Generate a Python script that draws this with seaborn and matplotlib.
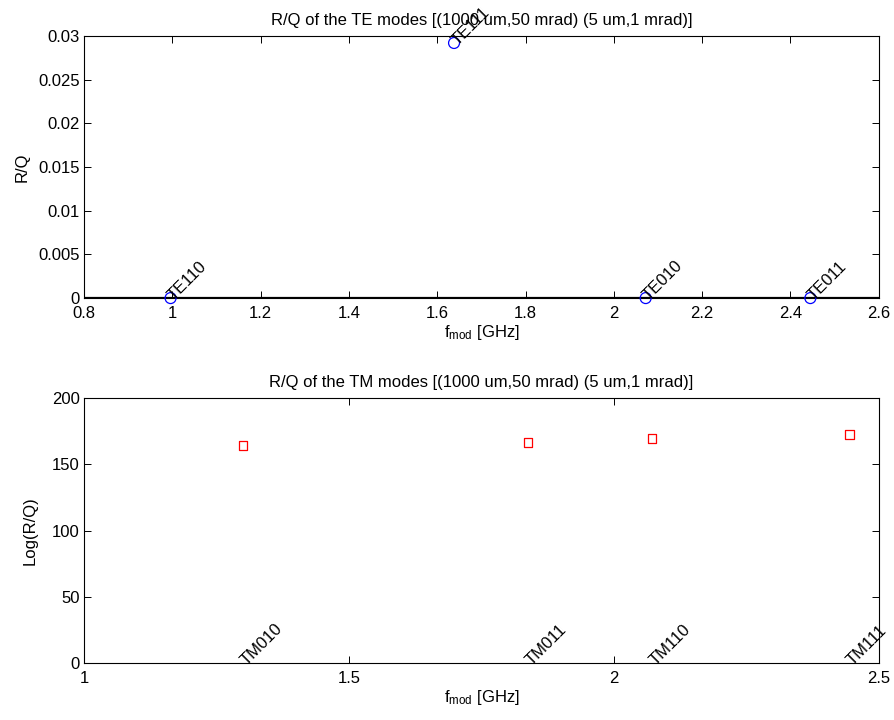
import matplotlib
matplotlib.use("Agg")
import matplotlib.pyplot as plt
import seaborn as sns
import numpy as np
import pandas as pd
from matplotlib.ticker import FuncFormatter

# ---- data ----
te_modes = ["TE110", "TE111", "TE010", "TE011"]
te_freq = [0.996, 1.638, 2.072, 2.445]
te_rq = [0.0, 0.0292, 0.0, 0.0]

tm_modes = ["TM010", "TM011", "TM110", "TM111"]
tm_freq = [1.300, 1.838, 2.072, 2.445]
tm_logrq = [164.5, 166.5, 169.5, 172.5]

te_title = "R/Q of the TE modes [(1000 um,50 mrad) (5 um,1 mrad)]"
tm_title = "R/Q of the TM modes [(1000 um,50 mrad) (5 um,1 mrad)]"

sns.set_style("ticks")
plt.rcParams["font.family"] = ["Liberation Sans", "DejaVu Sans"]
plt.rcParams.update({
    "xtick.direction": "in", "ytick.direction": "in",
    "xtick.top": True, "ytick.right": True,
    "xtick.major.size": 5, "ytick.major.size": 5,
    "xtick.major.width": 0.7, "ytick.major.width": 0.7,
    "xtick.major.pad": 6, "ytick.major.pad": 3,
    "axes.linewidth": 0.8, "font.size": 12,
    "axes.edgecolor": "black", "xtick.color": "black", "ytick.color": "black",
    "text.color": "black", "axes.labelcolor": "black",
    "xtick.labelcolor": "black", "ytick.labelcolor": "black",
    "mathtext.default": "regular",
})

FS = 12
fig = plt.figure(figsize=(8.94, 7.2), dpi=100)
ax1 = fig.add_axes([0.094, 0.586, 0.889, 0.364])
ax2 = fig.add_axes([0.094, 0.079, 0.889, 0.368])

fmt = FuncFormatter(lambda v, p: f"{v:g}")

# ---- top: TE modes ----
te_df = pd.DataFrame({"f": te_freq, "rq": te_rq, "mode": te_modes})
ax1.axhline(0, color="black", lw=1.6, zorder=1)
sns.scatterplot(data=te_df, x="f", y="rq", ax=ax1, marker="o", s=62,
                facecolor="none", edgecolor="blue", linewidth=0.9, zorder=3, clip_on=False)
for c in ax1.collections:
    c.set_facecolor("none"); c.set_edgecolor("blue")
for f, r, m in zip(te_freq, te_rq, te_modes):
    ax1.text(f, r, m, rotation=45, rotation_mode="anchor", ha="left", va="center",
             fontsize=FS, clip_on=False, zorder=4)
ax1.set_xlim(0.8, 2.6)
ax1.set_ylim(0, 0.03)
ax1.set_xticks(np.arange(0.8, 2.61, 0.2))
ax1.set_yticks(np.arange(0, 0.0301, 0.005))
ax1.xaxis.set_major_formatter(fmt)
ax1.yaxis.set_major_formatter(fmt)
ax1.tick_params(labelsize=FS)
ax1.set_title(te_title, fontsize=FS, pad=8)
ax1.set_xlabel("f$_{mod}$ [GHz]", fontsize=FS, labelpad=1)
ax1.set_ylabel("R/Q", fontsize=FS, labelpad=6)

# ---- bottom: TM modes ----
tm_df = pd.DataFrame({"f": tm_freq, "rq": tm_logrq, "mode": tm_modes})
sns.scatterplot(data=tm_df, x="f", y="rq", ax=ax2, marker="s", s=40,
                facecolor="none", edgecolor="red", linewidth=0.9, zorder=3)
for c in ax2.collections:
    c.set_facecolor("none"); c.set_edgecolor("red")
for f, m in zip(tm_freq, tm_modes):
    ax2.text(f, 0, m, rotation=45, rotation_mode="anchor", ha="left", va="center",
             fontsize=FS, clip_on=False, zorder=4)
ax2.set_xlim(1, 2.5)
ax2.set_ylim(0, 200)
ax2.set_xticks([1, 1.5, 2, 2.5])
ax2.set_yticks(np.arange(0, 201, 50))
ax2.xaxis.set_major_formatter(fmt)
ax2.yaxis.set_major_formatter(fmt)
ax2.tick_params(labelsize=FS)
ax2.set_title(tm_title, fontsize=FS, pad=8)
ax2.set_xlabel("f$_{mod}$ [GHz]", fontsize=FS, labelpad=1)
ax2.set_ylabel("Log(R/Q)", fontsize=FS, labelpad=10)

for ax in (ax1, ax2):
    for s in ax.spines.values():
        s.set_visible(True)
        s.set_color("black")

fig.savefig("out.png", dpi=100)
